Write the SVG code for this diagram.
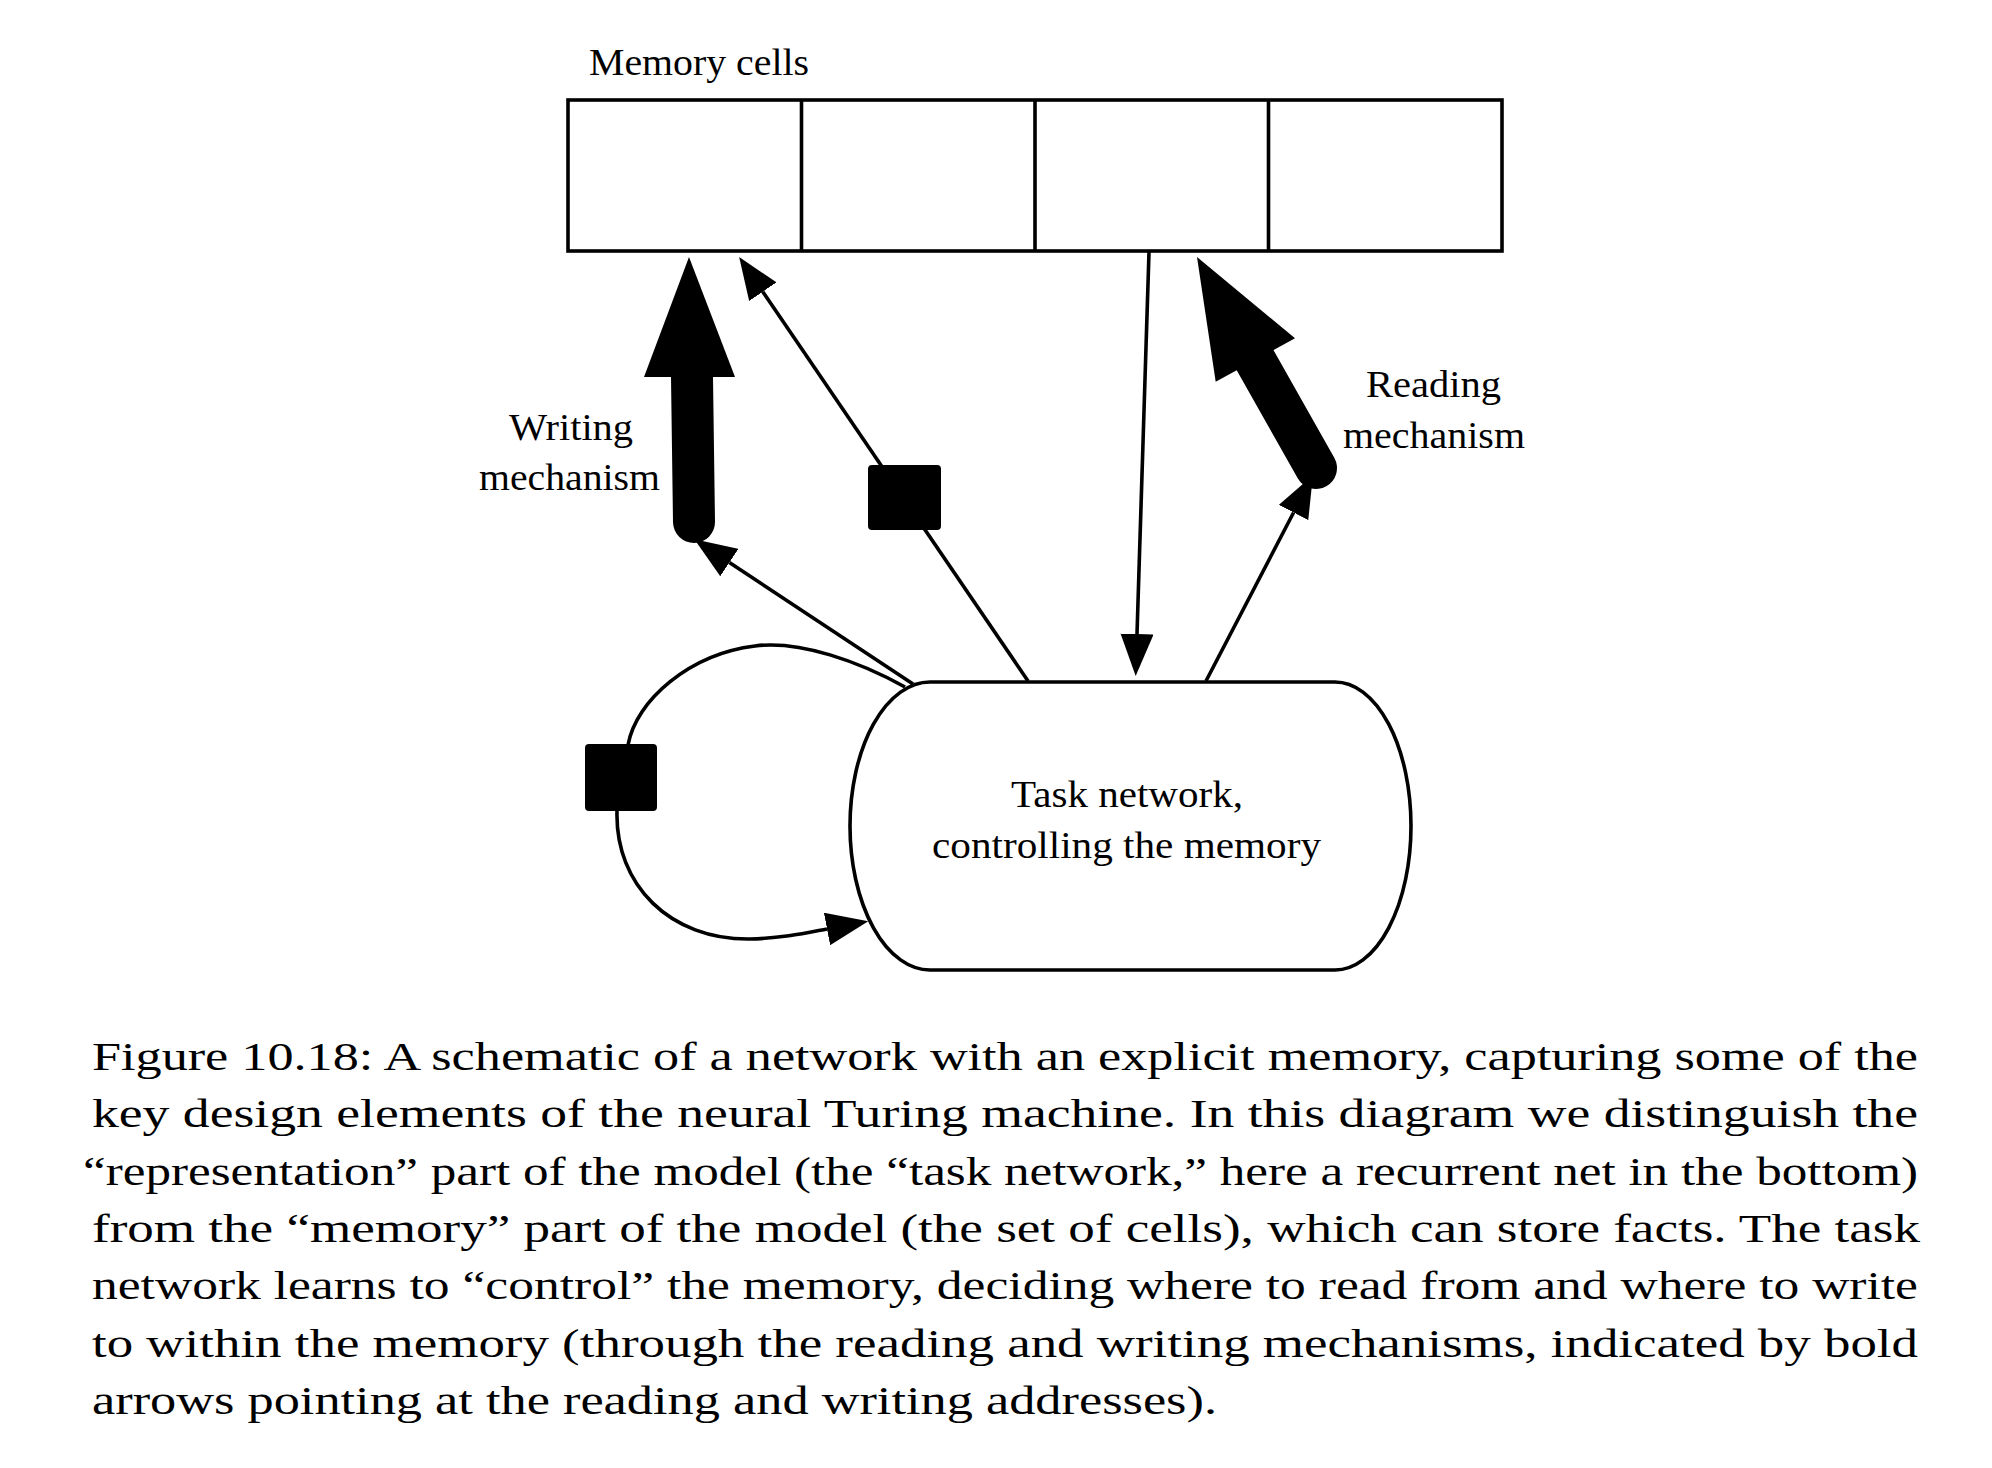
<svg xmlns="http://www.w3.org/2000/svg" width="1992" height="1468" viewBox="0 0 1992 1468">
  <style>
    .txt { font-family: "Liberation Serif", "Times New Roman", serif; fill: #000; }
    .lbl { font-size: 37px; }
    .cap { font-size: 41px; }
    .box { fill: #fff; stroke: #000; stroke-width: 3.6; }
    .edge { fill: none; stroke: #000; stroke-width: 3.6; }
    .thick { fill: none; stroke: #000; stroke-width: 42; stroke-linecap: round; }
    .gate { fill: #000; stroke: #000; stroke-width: 2; }
  </style>
  <defs>
    <marker id="arr" markerUnits="userSpaceOnUse" viewBox="0 0 42 33" refX="0" refY="16.5" markerWidth="42" markerHeight="33" orient="auto">
      <path d="M0,0 L42,16.5 L0,33 Z" fill="#000"/>
    </marker>
  </defs>

  <rect width="1992" height="1468" fill="#fff"/>

  <!-- Memory cells node -->
  <g id="memory-cells">
    <rect class="box" x="568" y="100" width="934" height="151"/>
    <line class="edge" x1="801.5" y1="100" x2="801.5" y2="251"/>
    <line class="edge" x1="1035" y1="100" x2="1035" y2="251"/>
    <line class="edge" x1="1268.5" y1="100" x2="1268.5" y2="251"/>
    <text class="txt lbl" x="589" y="75" textLength="220" lengthAdjust="spacingAndGlyphs">Memory cells</text>
  </g>

  <!-- Task network node -->
  <g id="task-network">
    <path class="box" d="M930,682 H1335 A76,144 0 0 1 1335,970 H930 A80,144 0 0 1 930,682 Z"/>
    <text class="txt lbl" x="1011" y="807" textLength="232" lengthAdjust="spacingAndGlyphs">Task network,</text>
    <text class="txt lbl" x="932" y="858" textLength="389" lengthAdjust="spacingAndGlyphs">controlling the memory</text>
  </g>

  <!-- Connectors -->
  <g id="connectors">
    <!-- memory -> task network (down arrow) -->
    <line class="edge" x1="1149" y1="252" x2="1137" y2="634" marker-end="url(#arr)"/>
    <!-- task network -> reading mechanism -->
    <line class="edge" x1="1206" y1="681" x2="1293.6" y2="512.5" marker-end="url(#arr)"/>
    <!-- task network -> writing mechanism -->
    <line class="edge" x1="913" y1="684" x2="729.4" y2="562.5" marker-end="url(#arr)"/>
    <!-- task network -> memory via gate -->
    <line class="edge" x1="1028" y1="681" x2="762.8" y2="291.7" marker-end="url(#arr)"/>
    <!-- recurrent self loop -->
    <path class="edge" d="M905,687 C860,662 800,640 755,646 C690,654 636,700 628,745 L617,811 C615,885 670,940 750,939 C785,938 806,933 827,929" marker-end="url(#arr)"/>

    <!-- writing mechanism (bold arrow) -->
    <g id="writing-arrow">
      <line class="thick" x1="694" y1="522" x2="692" y2="377"/>
      <polygon points="689,257 644,377 735,377" fill="#000"/>
    </g>
    <!-- reading mechanism (bold arrow) -->
    <g id="reading-arrow">
      <line class="thick" x1="1316" y1="468" x2="1255" y2="360"/>
      <polygon points="1197,257 1215.7,381.7 1295,338.3" fill="#000"/>
    </g>
  </g>

  <!-- Gates -->
  <g id="gate-memory">
    <rect class="gate" x="869" y="466" width="71" height="63" rx="3"/>
  </g>
  <g id="gate-loop">
    <rect class="gate" x="586" y="745" width="70" height="65" rx="3"/>
  </g>

  <!-- Labels -->
  <g id="label-writing">
    <text class="txt lbl" x="509" y="440" textLength="124" lengthAdjust="spacingAndGlyphs">Writing</text>
    <text class="txt lbl" x="479" y="490" textLength="181" lengthAdjust="spacingAndGlyphs">mechanism</text>
  </g>
  <g id="label-reading">
    <text class="txt lbl" x="1366" y="397" textLength="135" lengthAdjust="spacingAndGlyphs">Reading</text>
    <text class="txt lbl" x="1343" y="448" textLength="182" lengthAdjust="spacingAndGlyphs">mechanism</text>
  </g>

  <!-- Caption -->
  <g id="caption" class="txt cap">
    <text x="92" y="1070" textLength="1826" lengthAdjust="spacingAndGlyphs">Figure 10.18: A schematic of a network with an explicit memory, capturing some of the</text>
    <text x="92" y="1127" textLength="1826" lengthAdjust="spacingAndGlyphs">key design elements of the neural Turing machine. In this diagram we distinguish the</text>
    <text x="83" y="1185" textLength="1835" lengthAdjust="spacingAndGlyphs">“representation” part of the model (the “task network,” here a recurrent net in the bottom)</text>
    <text x="92" y="1242" textLength="1828" lengthAdjust="spacingAndGlyphs">from the “memory” part of the model (the set of cells), which can store facts. The task</text>
    <text x="92" y="1299" textLength="1826" lengthAdjust="spacingAndGlyphs">network learns to “control” the memory, deciding where to read from and where to write</text>
    <text x="92" y="1357" textLength="1826" lengthAdjust="spacingAndGlyphs">to within the memory (through the reading and writing mechanisms, indicated by bold</text>
    <text x="92" y="1414" textLength="1125" lengthAdjust="spacingAndGlyphs">arrows pointing at the reading and writing addresses).</text>
  </g>
</svg>
